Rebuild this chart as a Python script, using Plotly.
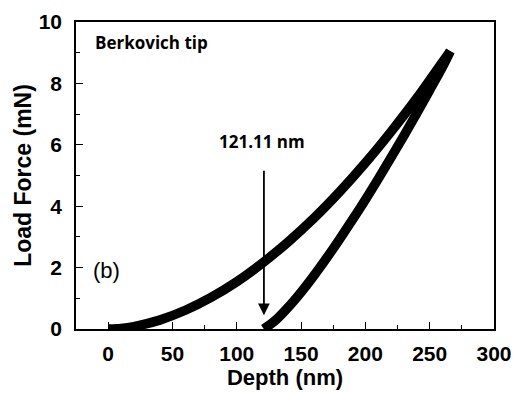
import plotly.graph_objects as go

# Loading curve (depth nm, load mN)
load_depth = [0, 10, 20, 40, 60, 80, 100, 120, 140, 160, 180, 200, 220, 240, 260, 266]
load_force = [0, 0.02, 0.08, 0.29, 0.61, 1.03, 1.54, 2.15, 2.84, 3.61, 4.47, 5.41, 6.43, 7.52, 8.70, 9.05]

# Unloading curve
unload_depth = [121, 130, 140, 150, 160, 170, 180, 190, 200, 210, 220, 230, 240, 250, 260, 266]
unload_force = [0, 0.28, 0.71, 1.20, 1.74, 2.32, 2.93, 3.56, 4.21, 4.89, 5.59, 6.30, 7.03, 7.78, 8.54, 9.05]

x_ticks = [0, 50, 100, 150, 200, 250, 300]
y_ticks = [0, 2, 4, 6, 8, 10]

arrow_x = 121.11
arrow_top = 5.2
arrow_tip = 0.45
arrow_label = "121.11 nm"

fig = go.Figure()
fig.add_trace(go.Scatter(x=load_depth, y=load_force, mode="lines",
                         line=dict(color="black", width=9.5, shape="spline"),
                         showlegend=False))
fig.add_trace(go.Scatter(x=unload_depth, y=unload_force, mode="lines",
                         line=dict(color="black", width=9.5, shape="spline"),
                         showlegend=False))

fig.add_annotation(x=arrow_x, y=arrow_tip, ax=arrow_x, ay=arrow_top,
                   xref="x", yref="y", axref="x", ayref="y",
                   showarrow=True, arrowhead=2, arrowsize=1.3, arrowwidth=1.8,
                   arrowcolor="black", text="")
fig.add_annotation(x=120, y=6.1, xref="x", yref="y", text="<b>" + arrow_label + "</b>",
                   showarrow=False, font=dict(family="Open Sans", size=17, color="black"))
fig.add_annotation(x=0.04, y=0.932, xref="paper", yref="paper", xanchor="left",
                   yanchor="middle",
                   text="<b>Berkovich tip</b>", showarrow=False,
                   font=dict(family="Open Sans", size=17, color="black"))
fig.add_annotation(x=0.036, y=0.192, xref="paper", yref="paper", xanchor="left",
                   yanchor="middle",
                   text="(b)", showarrow=False,
                   font=dict(family="Liberation Sans", size=22, color="black"))

axis_common = dict(showgrid=False, zeroline=False, showline=True, linecolor="black",
                   linewidth=1.5, mirror=True, ticks="inside", tickcolor="black",
                   ticklen=7, tickwidth=1.2, automargin=False,
                   tickfont=dict(family="Liberation Sans", size=21, color="black"))

fig.update_xaxes(range=[-25, 300], tickvals=x_ticks,
                 ticktext=["<b>%d</b>" % v for v in x_ticks],
                 minor=dict(dtick=25, tick0=0, ticks="inside", ticklen=4, tickcolor="black"),
                 title=dict(text="<b>Depth (nm)</b>", standoff=4,
                            font=dict(family="Liberation Sans", size=22, color="black")),
                 ticklabelstandoff=5, **axis_common)
fig.update_yaxes(range=[0, 10], tickvals=y_ticks,
                 ticktext=["<b>%d</b>" % v for v in y_ticks],
                 minor=dict(dtick=1, tick0=0, ticks="inside", ticklen=4, tickcolor="black"),
                 title=dict(text="<b>Load Force (mN)</b>", standoff=1,
                            font=dict(family="Liberation Sans", size=23, color="black")),
                 ticklabelstandoff=8, **axis_common)

fig.update_layout(width=524, height=393, margin=dict(l=76, r=30, t=22, b=64),
                  paper_bgcolor="white", plot_bgcolor="white")

fig.write_html("out.html")
